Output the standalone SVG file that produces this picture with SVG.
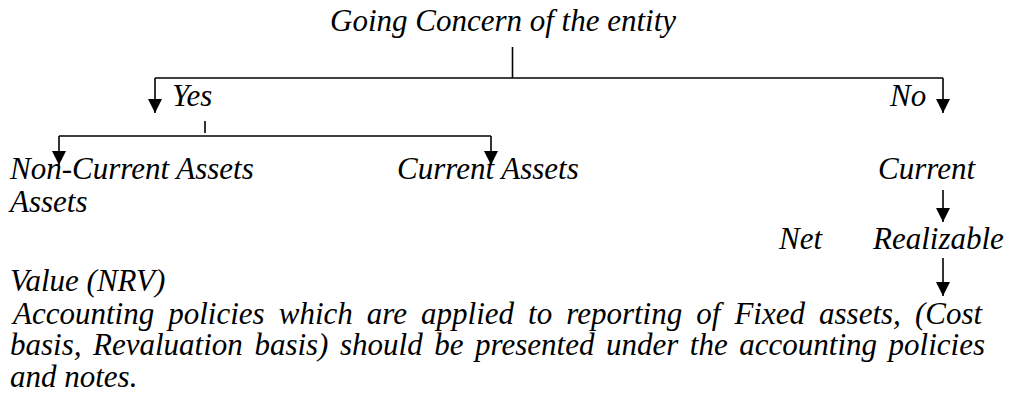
<svg xmlns="http://www.w3.org/2000/svg" width="1010" height="405" viewBox="0 0 1010 405">
  <defs>
    <!-- shared filled arrowhead for the downward connectors -->
    <marker id="head" markerUnits="userSpaceOnUse" markerWidth="14" markerHeight="15" refX="7" refY="14" orient="0" viewBox="0 0 14 15">
      <path d="M0,0 L14,0 L7,14 Z" fill="#000"/>
    </marker>
  </defs>
  <rect width="1010" height="405" fill="#fff"/>

  <!-- connectors: tree lines with filled arrowheads -->
  <g id="connectors" fill="none" stroke="#000" stroke-width="1.6">
    <line x1="512.5" y1="47" x2="512.5" y2="78"/>
    <line x1="155" y1="78" x2="943" y2="78"/>
    <path d="M155,78 V113" marker-end="url(#head)"/>
    <path d="M943,78 V113" marker-end="url(#head)"/>
    <line x1="205" y1="121" x2="205" y2="133"/>
    <line x1="59" y1="136" x2="491" y2="136"/>
    <path d="M59,136 V165" marker-end="url(#head)"/>
    <path d="M491,136 V165" marker-end="url(#head)"/>
    <path d="M943,190 V222" marker-end="url(#head)"/>
    <path d="M943,258 V296" marker-end="url(#head)"/>
  </g>

  <text id="going-concern" x="330" y="31" font-family="Liberation Serif" font-style="italic" font-size="31">Going Concern of the entity</text>
  <text id="yes-label" x="172" y="106" font-family="Liberation Serif" font-style="italic" font-size="31">Yes</text>
  <text id="no-label" x="890" y="106" font-family="Liberation Serif" font-style="italic" font-size="31">No</text>
  <text id="non-current-assets" x="10" y="179" font-family="Liberation Serif" font-style="italic" font-size="31">Non-Current Assets</text>
  <text id="non-current-assets-2" x="10" y="212" font-family="Liberation Serif" font-style="italic" font-size="31">Assets</text>
  <text id="current-assets" x="397" y="179" font-family="Liberation Serif" font-style="italic" font-size="31">Current Assets</text>
  <text id="current" x="878" y="179" font-family="Liberation Serif" font-style="italic" font-size="31">Current</text>
  <text id="nrv-net" x="779" y="249" font-family="Liberation Serif" font-style="italic" font-size="31">Net</text>
  <text id="nrv-realizable" x="873" y="249" font-family="Liberation Serif" font-style="italic" font-size="31">Realizable</text>
  <text id="nrv-value" x="10" y="291" font-family="Liberation Serif" font-style="italic" font-size="31">Value (NRV)</text>
  <text id="note-1" x="13" y="324" font-family="Liberation Serif" font-style="italic" font-size="31" word-spacing="6.3">Accounting policies which are applied to reporting of Fixed assets, (Cost</text>
  <text id="note-2" x="10" y="355" font-family="Liberation Serif" font-style="italic" font-size="31" word-spacing="3.8">basis, Revaluation basis) should be presented under the accounting policies</text>
  <text id="note-3" x="10" y="387" font-family="Liberation Serif" font-style="italic" font-size="31">and notes.</text>
</svg>
